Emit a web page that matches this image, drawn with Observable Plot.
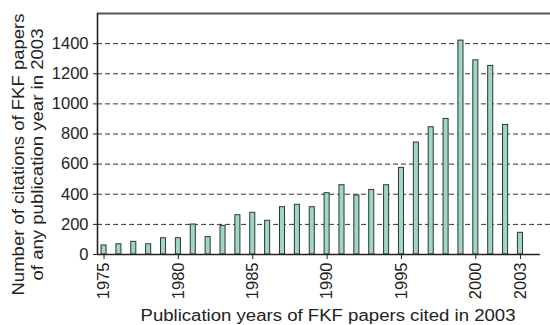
<!DOCTYPE html>
<html>
<head>
<meta charset="utf-8">
<script src="https://cdn.jsdelivr.net/npm/d3@7"></script>
<script src="https://cdn.jsdelivr.net/npm/@observablehq/plot@0.6"></script>
<style>
  html, body { margin: 0; padding: 0; background: #fff; }
</style>
</head>
<body>
<div id="chart"></div>
<script>
const years = [1975, 1976, 1977, 1978, 1979, 1980, 1981, 1982, 1983, 1984, 1985, 1986, 1987, 1988, 1989,
               1990, 1991, 1992, 1993, 1994, 1995, 1996, 1997, 1998, 1999, 2000, 2001, 2002, 2003];
const citations = [60, 68, 84, 68, 108, 108, 199, 115, 190, 261, 277, 224, 314, 330, 314,
                   407, 460, 392, 429, 460, 575, 743, 845, 900, 1420, 1289, 1252, 860, 144];
const xTicks = [1975, 1980, 1985, 1990, 1995, 2000, 2003];
const yTicks = [0, 200, 400, 600, 800, 1000, 1200, 1400];
const gridValues = [200, 400, 600, 800, 1000, 1200, 1400];
const xTitle = "Publication years of FKF papers cited in 2003";
const yTitle1 = "Number of citations of FKF papers";
const yTitle2 = "of any publication year in 2003";

const data = years.map((year, i) => ({year, value: citations[i]}));
const xMin = 1974.56, xMax = 2005.02, axisEnd = 2004.34;
const half = 0.17;

const chart = Plot.plot({
  width: 550,
  height: 325,
  marginLeft: 97,
  marginRight: 0,
  marginTop: 13,
  marginBottom: 71,
  style: {fontFamily: "'Liberation Sans', Arial, Helvetica, sans-serif", fontSize: "16px",
          color: "#222", background: "#fff"},
  x: {domain: [xMin, xMax]},
  y: {domain: [0, 1600]},
  marks: [
    Plot.ruleY(gridValues, {stroke: "#333", strokeWidth: 1, strokeDasharray: "5,3"}),
    Plot.ruleY([1600], {stroke: "#555", strokeWidth: 2}),
    Plot.rectY(data, {x1: d => d.year - half, x2: d => d.year + half, y: "value",
                      fill: "#9dd7cb", stroke: "#333", strokeWidth: 1}),
    Plot.ruleX([xMin], {y1: 0, y2: 1600, stroke: "#222", strokeWidth: 1.6}),
    Plot.ruleY([0], {x1: xMin, x2: axisEnd, stroke: "#222", strokeWidth: 1.6}),
    Plot.axisY({ticks: yTicks, tickSize: 4, tickPadding: 5, fontSize: 16.5, label: null,
                tickFormat: d => String(d)}),
    Plot.axisX({ticks: xTicks, tickSize: 5, tickPadding: 3, fontSize: 16.5, tickRotate: -90,
                label: null, tickFormat: d => String(d)}),
    Plot.text([xTitle], {frameAnchor: "bottom", dx: 4, dy: 66, lineAnchor: "bottom",
                         fontSize: 16, fill: "#222"}),
    Plot.text([yTitle1], {frameAnchor: "left", rotate: -90, dx: -74, dy: 161.5, lineAnchor: "bottom",
                          textAnchor: "start", fontSize: 16, fill: "#222"}),
    Plot.text([yTitle2], {frameAnchor: "left", rotate: -90, dx: -55, dy: 146.5, lineAnchor: "bottom",
                          textAnchor: "start", fontSize: 16, fill: "#222"})
  ]
});

const lengths = {[xTitle]: 375, [yTitle1]: 282, [yTitle2]: 252};
d3.select(chart).selectAll("text").each(function() {
  const t = this.textContent;
  if (lengths[t]) {
    this.setAttribute("textLength", lengths[t]);
    this.setAttribute("lengthAdjust", "spacingAndGlyphs");
  }
});

document.getElementById("chart").appendChild(chart);
</script>
</body>
</html>
